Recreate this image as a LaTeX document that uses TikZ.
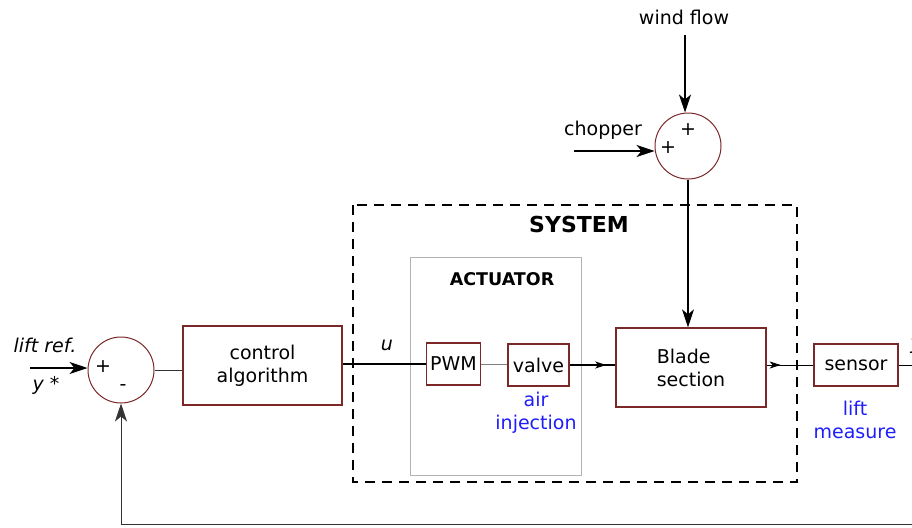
\documentclass[tikz,border=0pt]{standalone}
\usepackage{fontspec}
\setmainfont{DejaVu Sans}
\usetikzlibrary{arrows.meta,decorations.markings}
\definecolor{boxred}{RGB}{125,40,40}
\definecolor{txtblue}{RGB}{30,30,250}
\begin{document}
\begin{tikzpicture}[x=1pt,y=-1pt,
  font=\fontsize{19}{23}\selectfont,
  blk/.style={draw=boxred,line width=1.3pt,inner sep=2pt,align=center},
  sumc/.style={draw=boxred,circle,line width=1pt,minimum size=66pt,inner sep=0pt},
  sig/.style={line width=1.3pt,black},
  tip/.style={-{Stealth[length=18pt,width=12pt,inset=5pt]}},
  midtip/.style={decoration={markings,mark=at position #1 with {\arrow{Stealth[length=11pt,width=7pt,inset=3pt]}}},postaction={decorate}},
  bluetxt/.style={text=txtblue,align=center},
  lbl/.style={inner sep=0pt}]
\useasboundingbox (0,0) rectangle (912,527);

% frames
\draw[line width=2.6pt,dash pattern=on 10pt off 7pt] (353,205) rectangle (797,482);
\node[lbl,font=\fontsize{22}{26}\selectfont\bfseries] (systxt) at (579,224) {SYSTEM};
\draw[gray!60,line width=1pt] (410,257) rectangle (581,475);
\node[lbl,font=\fontsize{17.5}{21}\selectfont\bfseries] (acttxt) at (502,279) {ACTUATOR};

% summing junctions
\node[sumc] (s1) at (121,370) {};
\node[lbl] (s1p) at (103,367) {+};
\node[lbl] (s1m) at (123,388) {-};
\node[sumc] (s2) at (688,146) {};
\node[lbl] (s2a) at (688,130) {+};
\node[lbl] (s2b) at (668,148) {+};

% blocks
\node[blk,minimum width=159pt,minimum height=79pt] (ctrl) at (262.5,365.5) {control\\algorithm};
\node[blk,minimum width=54pt,minimum height=42pt,inner sep=1pt] (pwm) at (453.5,364) {PWM};
\node[blk,minimum width=61pt,minimum height=42pt,inner sep=1pt] (valve) at (538.5,365) {valve};
\node[blk,minimum width=150pt,minimum height=79pt,align=left] (blade) at (691,367.5) {Blade\\section};
\node[blk,minimum width=84pt,minimum height=42pt,inner sep=1pt] (sensor) at (856,365) {sensor};

% labels
\node[lbl,font=\fontsize{19}{23}\selectfont\itshape] (liftref) at (45,345) {lift ref.};
\node[lbl,font=\fontsize{19}{23}\selectfont\itshape] (ystar) at (46,385) {y *};
\node[lbl,font=\fontsize{19}{23}\selectfont\itshape] (u) at (387,345) {u};
\node[lbl] (wind) at (684,17) {wind flow};
\node[lbl] (chop) at (603,130) {chopper};
\node[bluetxt,lbl] (air) at (536,413) {air\\injection};
\node[bluetxt,lbl] (meas) at (855,420) {lift\\measure};
\node[lbl,font=\fontsize{19}{23}\selectfont\itshape] (yout) at (916,346) {y};

% coordinates
\coordinate (inL) at (30,368);
\coordinate (windT) at (685,35);
\coordinate (chopL) at (574,151);
\coordinate (outR) at (912,364);
\coordinate (fbR) at (912,524);

% connectors
\draw[sig,tip] (inL) -- (inL -| s1.west);
\draw[line width=1pt,gray!40!black] (s1.east) -- (s1.east -| ctrl.west);
\draw[sig] (ctrl.east |- pwm.west) -- (pwm.west);
\draw[line width=0.8pt,gray] (pwm.east) -- (pwm.east -| valve.west);
\draw[sig,midtip=0.8] (valve.east) -- (valve.east -| blade.west);
\draw[line width=1pt,midtip=0.3] (blade.east |- sensor.west) -- (sensor.west);
\draw[line width=1pt] (sensor.east) -- (sensor.east -| outR);
\draw[sig,tip] (windT) -- (windT |- s2.north);
\draw[sig,tip] (chopL) -- (chopL -| s2.west);
\draw[sig,tip] (s2.south) -- (s2.south |- blade.north);
\draw[line width=1pt,gray!40!black,tip] (fbR) -| (s1.south);
\end{tikzpicture}
\end{document}
